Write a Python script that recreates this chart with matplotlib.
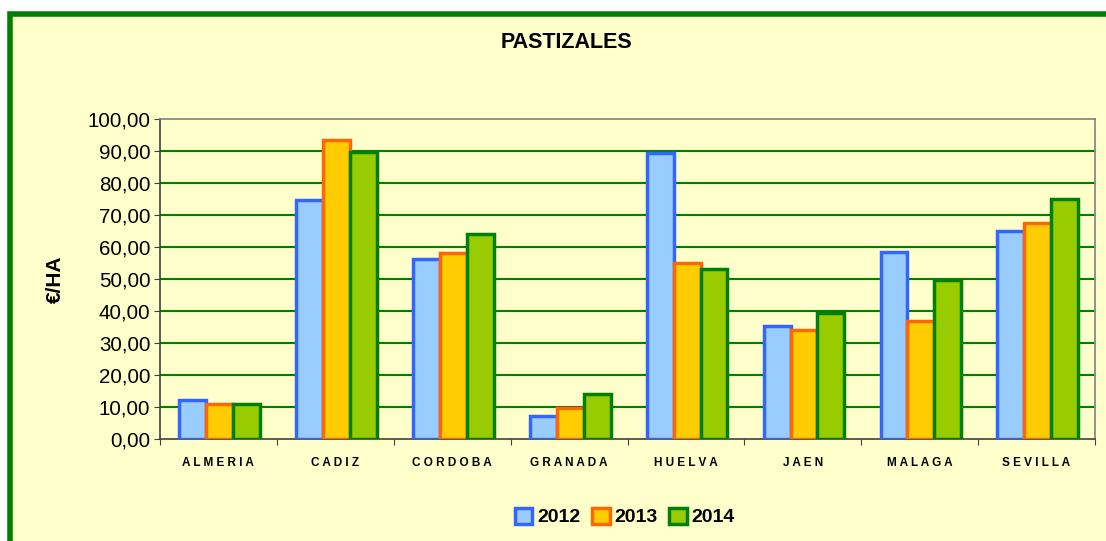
import matplotlib
matplotlib.use("Agg")
import matplotlib.pyplot as plt
from matplotlib.patches import Rectangle
import numpy as np

plt.rcParams['font.family'] = ['Liberation Sans', 'DejaVu Sans']

provincias = ["ALMERIA", "CADIZ", "CORDOBA", "GRANADA", "HUELVA", "JAEN", "MALAGA", "SEVILLA"]
anios = ["2012", "2013", "2014"]
v2012 = [12.2, 74.7, 56.3, 7.3, 89.4, 35.3, 58.3, 65.0]
v2013 = [10.8, 93.4, 58.1, 9.6, 55.0, 34.0, 37.0, 67.4]
v2014 = [10.8, 89.8, 64.0, 14.0, 53.1, 39.4, 49.7, 75.0]

caras = ["#99CCFF", "#FFCC00", "#99CC00"]
bordes = ["#3366FF", "#FF6600", "#008000"]


def main():
    fig = plt.figure(figsize=(11.06, 5.41), dpi=100)
    fig.patch.set_facecolor("white")

    # marco verde del grafico
    W, H = 1106, 541
    marco = Rectangle((10 / W, -0.05), 1.2, 1 - 14 / H + 0.05, transform=fig.transFigure,
                      facecolor="#FFFFCC", edgecolor="#008000", linewidth=4, zorder=-5)
    fig.patches.append(marco)

    ax = fig.add_axes([160 / W, 1 - 439 / H, (1095 - 160) / W, (439 - 119) / H])
    ax.set_facecolor("#FFFFCC")
    ax.set_zorder(1)

    x = np.arange(len(provincias))
    w = 0.23
    series = [v2012, v2013, v2014]
    for i, vals in enumerate(series):
        ax.bar(x + (i - 1) * w + 0.01, vals, width=w, color=caras[i], edgecolor=bordes[i],
               linewidth=2.5, label=anios[i], zorder=3)

    ax.set_xlim(-0.5, len(provincias) - 0.5)
    ax.set_ylim(0, 100)
    ax.set_yticks(np.arange(0, 101, 10))
    ax.set_yticklabels([f"{v:.2f}".replace(".", ",") for v in np.arange(0, 101, 10)], fontsize=14.8)
    for yv in range(10, 100, 10):
        ax.axhline(yv, color="#008000", linewidth=1.5, zorder=1)

    ax.set_xticks(np.arange(-0.5, len(provincias), 1))
    ax.set_xticklabels([])
    ax.tick_params(axis="x", direction="out", length=4, color="#404040")
    ax.tick_params(axis="y", direction="out", length=4, color="#404040", pad=3)
    for p, nom in zip(x, provincias):
        ax.text(p, -7.5, " ".join(nom), ha="center", va="center", fontsize=8.5, fontweight="bold")

    for s in ["left", "bottom"]:
        ax.spines[s].set_color("#404040")
        ax.spines[s].set_linewidth(1.2)
    for s in ["top", "right"]:
        ax.spines[s].set_color("#808080")
        ax.spines[s].set_linewidth(1.2)

    ax.set_ylabel("€/HA", fontsize=15, fontweight="bold", labelpad=16)
    fig.text(566 / W, 1 - 43 / H, "PASTIZALES", ha="center", va="center",
             fontsize=15.5, fontweight="bold")

    fig.legend(loc="center", bbox_to_anchor=(625 / W, 1 - 517 / H), ncol=3,
               frameon=False, prop={"size": 14, "weight": "bold"},
               handlelength=0.9, handleheight=0.9, handletextpad=0.25, columnspacing=0.6)

    plt.savefig("out.png", dpi=100)


if __name__ == "__main__":
    main()
